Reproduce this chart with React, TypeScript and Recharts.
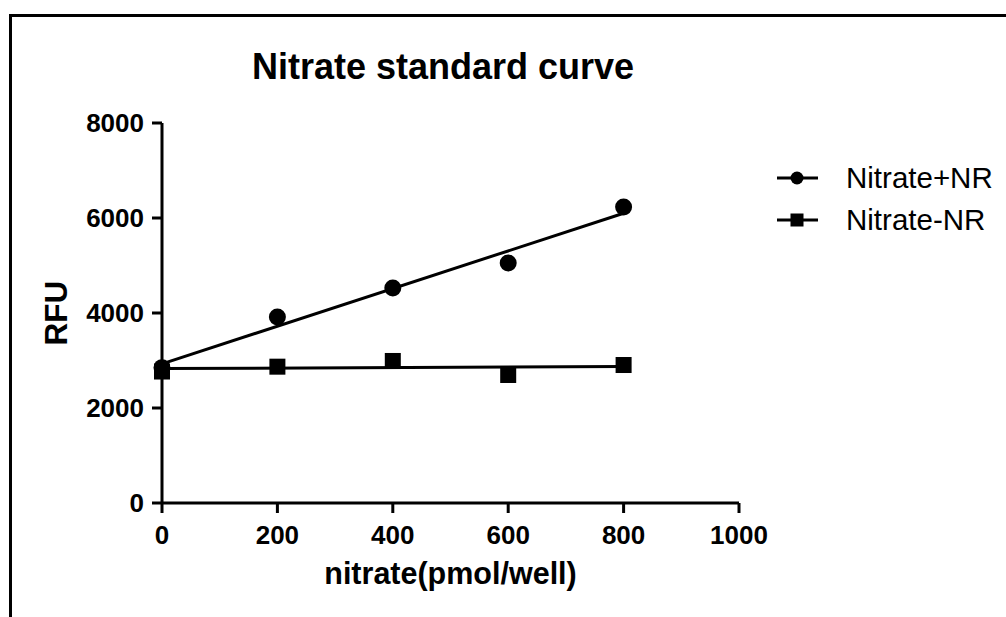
import { Scatter, ScatterChart, XAxis, YAxis } from "recharts";

const FONT = "'Liberation Sans', Arial, Helvetica, sans-serif";

const doses = [0, 200, 400, 600, 800];
const plusNR = [2850, 3916, 4526, 5053, 6232];
const minusNR = [2768, 2870, 2990, 2695, 2905];
// fitted lines (ends at 0 and 800)
const fitX = [0, 800];
const plusFit = [2930, 6100];
const minusFit = [2830, 2872];

const xTicks = [0, 200, 400, 600, 800, 1000];
const yTicks = [0, 2000, 4000, 6000, 8000];

const seriesNames = ["Nitrate+NR", "Nitrate-NR"];

const plusPts = doses.map((x, i) => ({ x, y: plusNR[i] }));
const minusPts = doses.map((x, i) => ({ x, y: minusNR[i] }));
const plusLine = fitX.map((x, i) => ({ x, y: plusFit[i] }));
const minusLine = fitX.map((x, i) => ({ x, y: minusFit[i] }));

const tickStyle = { fill: "#000", fontSize: 26, fontWeight: "bold", fontFamily: FONT };
const axisStroke = { stroke: "#000", strokeWidth: 3 };

const Dot = (p: any) => <circle cx={p.cx} cy={p.cy} r={8.5} fill="#000" />;
const Sq = (p: any) => <rect x={p.cx - 8} y={p.cy - 8} width={16} height={16} fill="#000" />;
const None = () => null;

function LegendBox() {
  return (
    <div style={{ position: "absolute", left: 776, top: 157, fontFamily: FONT, fontSize: 29.5, color: "#000" }}>
      {seriesNames.map((name, i) => (
        <div key={name} style={{ display: "flex", alignItems: "center", height: 42 }}>
          <svg width={44} height={20} style={{ marginRight: 26 }}>
            <line x1={1} y1={10} x2={42} y2={10} stroke="#000" strokeWidth={3} />
            {i === 0 ? (
              <circle cx={21} cy={10} r={6.5} fill="#000" />
            ) : (
              <rect x={14.5} y={3.5} width={13} height={13} fill="#000" />
            )}
          </svg>
          <span>{name}</span>
        </div>
      ))}
    </div>
  );
}

export default function App() {
  return (
    <div style={{ position: "absolute", left: 0, top: 0, width: 1006, height: 617, overflow: "hidden", background: "#fff" }}>
      <div style={{ position: "absolute", left: 9, top: 14, width: 1100, height: 700, borderTop: "3px solid #000", borderLeft: "3px solid #000" }} />
      <div
        style={{
          position: "absolute", left: 243, top: 46, width: 400, textAlign: "center",
          fontFamily: FONT, fontWeight: "bold", fontSize: 36, lineHeight: "42px", color: "#000",
        }}
      >
        Nitrate standard curve
      </div>
      <ScatterChart width={1006} height={617} margin={{ top: 123, right: 267, bottom: 54, left: 62 }}>
        <XAxis
          type="number" dataKey="x" domain={[0, 1000]} ticks={xTicks} interval={0}
          axisLine={axisStroke} tickLine={axisStroke} tickSize={10} tickMargin={13} tick={tickStyle} height={60}
          label={{ value: "nitrate(pmol/well)", position: "bottom", offset: -1, fill: "#000", fontSize: 30.5, fontWeight: "bold", fontFamily: FONT }}
        />
        <YAxis
          type="number" dataKey="y" domain={[0, 8000]} ticks={yTicks} interval={0}
          axisLine={axisStroke} tickLine={axisStroke} tickSize={10} tickMargin={8} tick={tickStyle} width={100}
          label={{ value: "RFU", angle: -90, position: "insideLeft", offset: -6, fill: "#000", fontSize: 31.5, fontWeight: "bold", fontFamily: FONT, style: { textAnchor: "middle" } }}
        />
        <Scatter data={plusLine} line={{ stroke: "#000", strokeWidth: 3 }} shape={None} isAnimationActive={false} legendType="none" />
        <Scatter data={minusLine} line={{ stroke: "#000", strokeWidth: 3 }} shape={None} isAnimationActive={false} legendType="none" />
        <Scatter name={seriesNames[0]} data={plusPts} shape={Dot} isAnimationActive={false} />
        <Scatter name={seriesNames[1]} data={minusPts} shape={Sq} isAnimationActive={false} />
      </ScatterChart>
      <LegendBox />
    </div>
  );
}
